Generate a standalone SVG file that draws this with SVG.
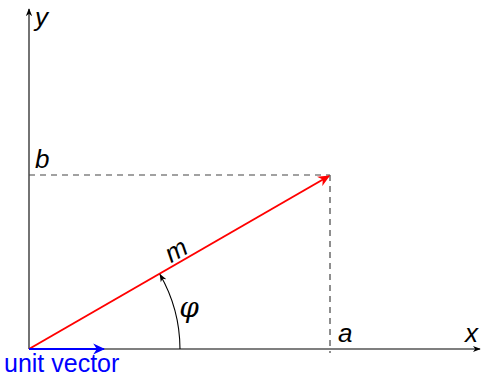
<svg xmlns="http://www.w3.org/2000/svg" width="481" height="377" viewBox="0 0 481 377">
<style>
.axis{stroke:#000;stroke-width:1.1;fill:none}
.dash{stroke:#444;stroke-width:1.2;stroke-dasharray:6,5;fill:none}
.lbl{font-family:"Liberation Sans",Arial,sans-serif;font-style:italic;font-size:26px;fill:#000}
</style>
<defs>
<marker id="ah" viewBox="0 0 10 10" refX="9" refY="5" markerWidth="8" markerHeight="8" markerUnits="userSpaceOnUse" orient="auto">
<path d="M0,1 L10,5 L0,9 L3,5 Z" fill="#000"/>
</marker>
<marker id="ahr" viewBox="0 0 10 10" refX="9" refY="5" markerWidth="6" markerHeight="6" orient="auto">
<path d="M0,0.5 L10,5 L0,9.5 L3,5 Z" fill="#f00"/>
</marker>
<marker id="ahb" viewBox="0 0 10 10" refX="9" refY="5" markerWidth="6" markerHeight="6" orient="auto">
<path d="M0,0.5 L10,5 L0,9.5 L3,5 Z" fill="#00f"/>
</marker>
</defs>
<g id="connectors">
<line class="axis" x1="29" y1="349" x2="29" y2="9" marker-end="url(#ah)"/>
<line class="axis" x1="29" y1="349" x2="480" y2="349" marker-end="url(#ah)"/>
<line class="dash" x1="29" y1="175" x2="330" y2="175"/>
<line class="dash" x1="330" y1="175" x2="330" y2="353"/>
<line x1="29" y1="349" x2="329" y2="176" stroke="#f00" stroke-width="2" marker-end="url(#ahr)"/>
<line x1="29" y1="349" x2="104" y2="349" stroke="#00f" stroke-width="2" marker-end="url(#ahb)"/>
<path class="axis" d="M180,349 A151,151 0 0 0 160,274.5" marker-end="url(#ah)"/>
</g>
<g id="labels">
<text class="lbl" x="35" y="26">y</text>
<text class="lbl" x="35" y="168">b</text>
<text class="lbl" x="338" y="342">a</text>
<text class="lbl" x="465" y="342">x</text>
<text class="lbl" x="176" y="259" text-anchor="middle" transform="rotate(-30 176 250)">m</text>
<text x="189" y="317" text-anchor="middle" font-family="'DejaVu Serif',serif" font-style="italic" font-size="28" fill="#000">φ</text>
<text x="4" y="372" font-family="'Liberation Sans',Arial,sans-serif" font-size="25" fill="#00f">unit vector</text>
</g>
</svg>
